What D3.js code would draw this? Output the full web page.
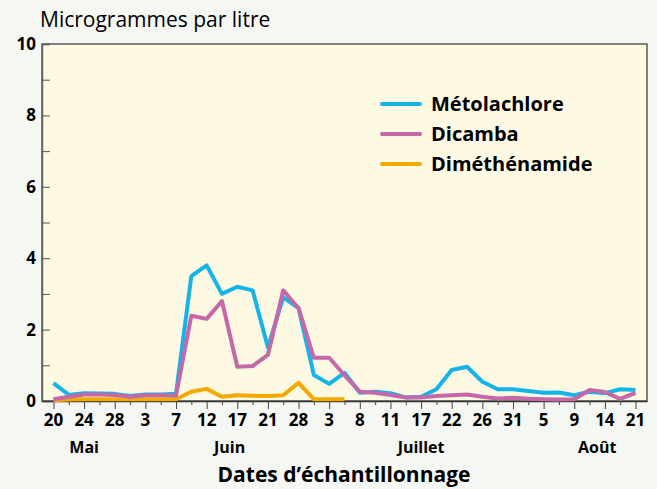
<!DOCTYPE html>
<html>
<head>
<meta charset="utf-8">
<script src="https://cdn.jsdelivr.net/npm/d3@7"></script>
<style>
  body { margin: 0; background: #f5f7f3; }
  svg { display: block; font-family: "Open Sans", sans-serif; }
  .bold { font-weight: 700; }
</style>
</head>
<body>
<svg width="657" height="489"></svg>
<script>
const width = 657;
const height = 489;
const margin = {top: 44, right: 10, bottom: 88, left: 42};

// one sample every ~2-3 days, labels on every other sample
const dayLabels = ['20', '24', '28', '3', '7', '12', '17', '21', '28', '3',
                   '8', '11', '17', '22', '26', '31', '5', '9', '14', '21'];
const months = ['Mai', 'Juin', 'Juillet', 'Août'];
const monthPos = [2, 11.5, 24, 35.5];

const metolachlore = [0.5, 0.17, 0.22, 0.21, 0.2, 0.14, 0.18, 0.18, 0.2, 3.5,
    3.8, 3.0, 3.2, 3.1, 1.5, 2.9, 2.6, 0.73, 0.48, 0.79,
    0.23, 0.26, 0.22, 0.1, 0.12, 0.33, 0.87, 0.96, 0.54, 0.33,
    0.33, 0.28, 0.23, 0.24, 0.16, 0.26, 0.22, 0.33, 0.31];
const dicamba = [0.05, 0.12, 0.18, 0.18, 0.17, 0.12, 0.16, 0.16, 0.15, 2.39,
    2.3, 2.8, 0.96, 0.98, 1.29, 3.1, 2.6, 1.21, 1.21, 0.72,
    0.26, 0.23, 0.17, 0.1, 0.1, 0.14, 0.16, 0.18, 0.12, 0.07,
    0.09, 0.06, 0.05, 0.04, 0.05, 0.31, 0.25, 0.06, 0.23];
const dimethenamide = [0.02, 0.04, 0.05, 0.05, 0.05, 0.05, 0.05, 0.05, 0.05, 0.26,
    0.34, 0.12, 0.16, 0.15, 0.14, 0.16, 0.51, 0.05, 0.05, 0.05];

const series = [
    {name: 'Diméthénamide', values: dimethenamide, color: '#f2a900'},
    {name: 'Métolachlore', values: metolachlore, color: '#14b4e8'},
    {name: 'Dicamba', values: dicamba, color: '#c468a8'}
];
const legendOrder = ['Métolachlore', 'Dicamba', 'Diméthénamide'];

const svg = d3.select('svg');
const plotW = width - margin.left - margin.right;
const plotH = height - margin.top - margin.bottom;

const xScale = d3.scaleLinear()
    .domain([-0.75, metolachlore.length - 1 + 0.75])
    .range([margin.left, width - margin.right]);

const yScale = d3.scaleLinear()
    .domain([0, 10])
    .range([height - margin.bottom, margin.top]);

svg.append('rect')
    .attr('x', margin.left)
    .attr('y', margin.top)
    .attr('width', plotW)
    .attr('height', plotH)
    .attr('fill', '#fef9e2')
    .attr('stroke', '#333')
    .attr('stroke-width', 1.2);

// y axis, ticks pointing inward
const yAxis = d3.axisRight(yScale)
    .tickValues(d3.range(0, 11))
    .tickSize(8)
    .tickFormat('');
const yG = svg.append('g')
    .attr('transform', `translate(${margin.left}, 0)`)
    .call(yAxis);
yG.select('.domain').attr('stroke', '#666').attr('stroke-width', 1.5);
yG.selectAll('.tick line').attr('stroke', '#555');

svg.selectAll('.ylabel')
    .data(d3.range(0, 11, 2))
    .enter()
    .append('text')
    .classed('bold', true)
    .attr('x', 36)
    .attr('y', d => yScale(d) + 6)
    .attr('text-anchor', 'end')
    .attr('font-size', 17)
    .text(d => d);

// x axis
const idx = d3.range(metolachlore.length);
const xAxis = d3.axisBottom(xScale)
    .tickValues(idx)
    .tickSizeOuter(0)
    .tickFormat('');
const xG = svg.append('g')
    .attr('transform', `translate(0, ${height - margin.bottom})`)
    .call(xAxis);
xG.select('.domain').attr('stroke', '#333').attr('stroke-width', 1.5);
xG.selectAll('.tick line')
    .attr('stroke', '#444')
    .attr('y2', d => d % 2 === 0 ? 8 : 4);

svg.selectAll('.xlabel')
    .data(dayLabels)
    .enter()
    .append('text')
    .classed('bold', true)
    .attr('x', (d, i) => xScale(i * 2))
    .attr('y', height - margin.bottom + 25)
    .attr('text-anchor', 'middle')
    .attr('font-size', 17)
    .text(d => d);

svg.selectAll('.month')
    .data(months)
    .enter()
    .append('text')
    .classed('bold', true)
    .attr('x', (d, i) => xScale(monthPos[i]))
    .attr('y', height - margin.bottom + 52)
    .attr('text-anchor', 'middle')
    .attr('font-size', 16)
    .text(d => d);

svg.append('text')
    .classed('bold', true)
    .attr('x', 344)
    .attr('y', 482)
    .attr('text-anchor', 'middle')
    .attr('font-size', 21)
    .text('Dates d’échantillonnage');

svg.append('text')
    .attr('x', 40)
    .attr('y', 27)
    .attr('font-size', 21)
    .text('Microgrammes par litre');

// lines
const line = d3.line()
    .x((d, i) => xScale(i))
    .y(d => yScale(d));

svg.selectAll('.series')
    .data(series)
    .enter()
    .append('path')
    .attr('d', d => line(d.values))
    .attr('fill', 'none')
    .attr('stroke', d => d.color)
    .attr('stroke-width', 4)
    .attr('stroke-linejoin', 'round');

// legend
const legend = svg.selectAll('.legend')
    .data(legendOrder.map(n => series.find(s => s.name === n)))
    .enter()
    .append('g')
    .attr('transform', (d, i) => `translate(382, ${104 + i * 30})`);

legend.append('line')
    .attr('x1', 0)
    .attr('x2', 38)
    .attr('stroke', d => d.color)
    .attr('stroke-width', 4)
    .attr('stroke-linecap', 'round');

legend.append('text')
    .classed('bold', true)
    .attr('x', 49)
    .attr('y', 7)
    .attr('font-size', 20)
    .text(d => d.name);
</script>
</body>
</html>
